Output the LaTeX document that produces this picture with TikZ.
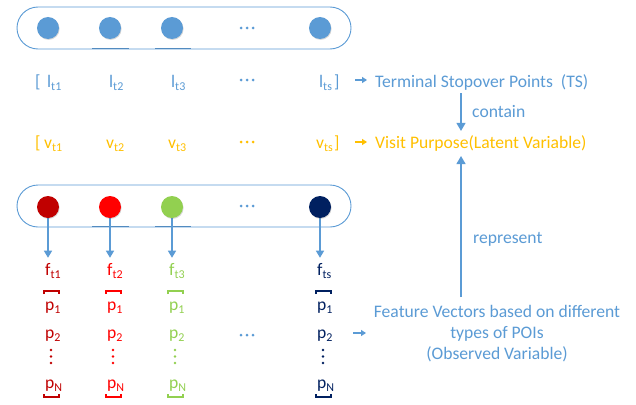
\documentclass[tikz,border=0pt]{standalone}
\usepackage{fontspec}
\setmainfont{Carlito}
\usetikzlibrary{arrows.meta,shadows}
\definecolor{bl}{HTML}{5B9BD5}
\definecolor{ora}{HTML}{FFC000}
\definecolor{dred}{HTML}{C00000}
\definecolor{rd}{HTML}{FF0000}
\definecolor{grn}{HTML}{92D050}
\definecolor{nvy}{HTML}{002060}
\newcommand{\subt}[1]{\raisebox{-0.45ex}{\fontsize{12}{12}\selectfont #1}}
\tikzset{
  lab/.style={font=\fontsize{17.6}{21}\selectfont, inner sep=0pt},
  box/.style={draw=bl, line width=0.9pt, rounded corners=21pt, minimum width=334pt, minimum height=42pt, inner sep=0pt},
  ball/.style={circle, minimum size=22pt, inner sep=0pt, draw=none,
    drop shadow={shadow xshift=0.6pt, shadow yshift=-0.9pt, opacity=0.25, fill=black!60}},
  darr/.style={draw=bl, line width=1.2pt, -{Triangle[width=8pt,length=7pt]}},
  sarr/.style={draw=bl, line width=1.6pt, -{Triangle[width=6pt,length=5pt]}},
  oarr/.style={draw=ora, line width=1.6pt, -{Triangle[width=6pt,length=5pt]}},
  barr/.style={draw=bl, line width=1.2pt, -{Triangle[width=9pt,length=8pt]}},
  seg/.style={draw=bl!90!black, line width=1.6pt},
}
\begin{document}
\begin{tikzpicture}[x=1pt,y=-1pt]
\useasboundingbox[fill=white] (0,0) rectangle (636,404);

% top box
\node[box] (tb) at (184,28) {};
\draw[seg] (92,48.6) -- (129,48.6);
\draw[seg] (155,48.6) -- (191,48.6);
\foreach \i/\cx in {1/48,2/110,3/172,4/320}{
  \node[ball, fill=bl] (a\i) at (\cx,28) {};
}
\foreach \dx in {-6,0,6}{ \fill[bl] ({247+\dx},28) circle (1.5); }

% row l
\node[lab, text=bl, anchor=base west] (lbo) at (35,87) {[};
\foreach \i/\cx/\s in {1/48/t1,2/110/t2,3/172/t3,4/320/ts}{
  \node[lab, text=bl, anchor=base west] (l\i) at ({\cx-1},87) {l\subt{\s}};
}
\node[lab, text=bl, anchor=base west] (lbc) at (334,87) {]};
\foreach \dx in {-6,0,6}{ \fill[bl] ({247+\dx},80) circle (1.5); }
\coordinate (ta) at (355,80);
\draw[sarr] (ta) -- ++(12,0);
\node[lab, text=bl, anchor=base west] (ts) at (375,87) {Terminal Stopover Points~~(TS)};

% row v
\node[lab, text=ora, anchor=base west] (vbo) at (35,148) {[};
\foreach \i/\cx/\s in {1/48/t1,2/110/t2,3/172/t3,4/320/ts}{
  \node[lab, text=ora, anchor=base west] (v\i) at ({\cx-4},148) {v\subt{\s}};
}
\node[lab, text=ora, anchor=base west] (vbc) at (334,148) {]};
\foreach \dx in {-6,0,6}{ \fill[ora] ({247+\dx},142) circle (1.5); }
\coordinate (va) at (355,142);
\draw[oarr] (va) -- ++(12,0);
\node[lab, text=ora, anchor=base west] (vp) at (375,148) {Visit Purpose(Latent Variable)};

% contain
\coordinate (rx) at (461,0);
\draw[barr, shorten <=3pt, shorten >=4pt] (ts.south -| rx) -- (vp.north -| rx);
\node[lab, text=bl, anchor=base west] (ct) at (472,117) {contain};

% bottom box
\node[box] (bb) at (184,206) {};
\draw[seg] (92,226.6) -- (129,226.6);
\draw[seg] (155,226.6) -- (191,226.6);
\foreach \dx in {-6,0,6}{ \fill[bl] ({247+\dx},206) circle (1.5); }

\foreach \i/\cx/\col/\s in {1/48/dred/t1,2/110/rd/t2,3/172/grn/t3,4/320/nvy/ts}{
  \node[lab, text=\col, anchor=base west] (f\i) at ({\cx-3},275) {f\subt{\s}};
  \node[lab, text=\col, anchor=base west] (p1\i) at ({\cx-3},310) {p\subt{1}};
  \node[lab, text=\col, anchor=base west] (p2\i) at ({\cx-3},338) {p\subt{2}};
  \node[lab, text=\col, anchor=base west] (pn\i) at ({\cx-3},388) {p\subt{N}};
  \draw[\col, line width=1.1pt] ({\cx-4},294) -- ({\cx-4},291) -- ({\cx+11},291) -- ({\cx+11},294);
  \draw[\col, line width=1.1pt] ({\cx-4},394) -- ({\cx-4},397) -- ({\cx+11},397) -- ({\cx+11},394);
  \foreach \dy in {350,356.5,363}{ \fill[\col] ({\cx+3},\dy) circle (1.3); }
  \draw[darr, shorten >=5pt] (\cx,207) -- (f\i.north -| {\cx,0});
  \node[ball, fill=\col] (d\i) at (\cx,207) {};
}
\foreach \dx in {-6,0,6}{ \fill[bl] ({247+\dx},335) circle (1.5); }

% feature vectors
\node[lab, text=bl, align=center, anchor=north] (fv) at (497,305) {Feature Vectors based on different\\types of POIs\\(Observed Variable)};
\coordinate (fa) at (353,333);
\draw[sarr] (fa) -- ++(13,0);

% represent
\draw[barr, shorten <=8pt, shorten >=5pt] (fv.north -| rx) -- (vp.south -| rx);
\node[lab, text=bl, anchor=base west] (rp) at (473,243) {represent};
\end{tikzpicture}
\end{document}
